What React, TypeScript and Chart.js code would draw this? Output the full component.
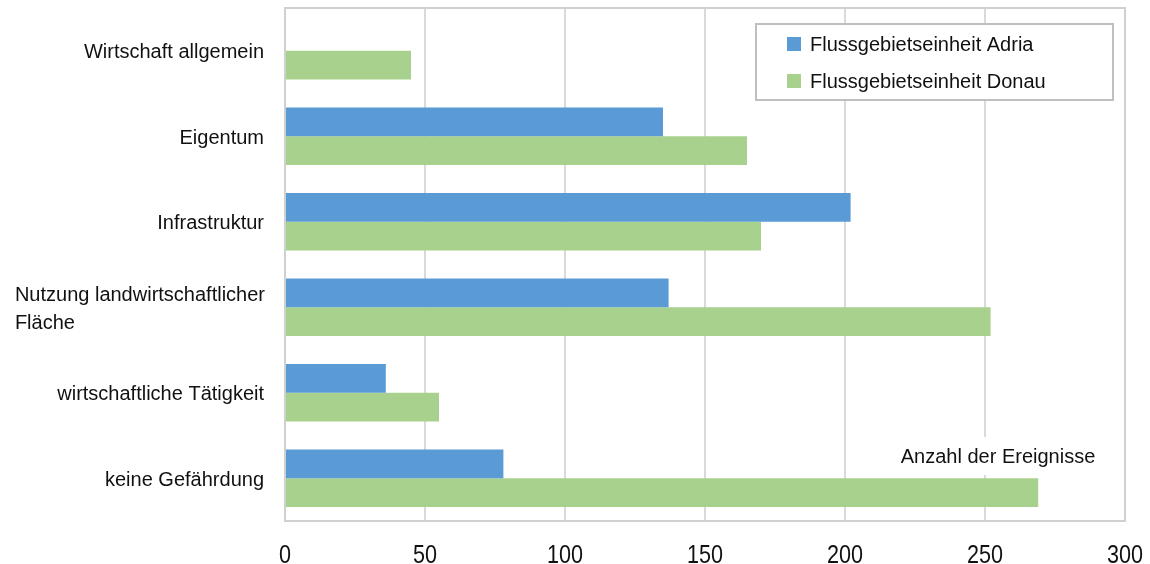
import React, { useEffect, useRef } from "react";
import { Chart, registerables } from "chart.js";

Chart.register(...registerables);

const categories = [
  "Wirtschaft allgemein",
  "Eigentum",
  "Infrastruktur",
  "Nutzung landwirtschaftlicher Fläche",
  "wirtschaftliche Tätigkeit",
  "keine Gefährdung",
];
const categoryLines = [
  ["Wirtschaft allgemein"],
  ["Eigentum"],
  ["Infrastruktur"],
  ["Nutzung landwirtschaftlicher", "Fläche"],
  ["wirtschaftliche Tätigkeit"],
  ["keine Gefährdung"],
];
const adria = [0, 135, 202, 137, 36, 78];
const donau = [45, 165, 170, 252, 55, 269];
const seriesNames = ["Flussgebietseinheit Adria", "Flussgebietseinheit Donau"];
const seriesColors = ["#5b9bd5", "#a9d18e"];
const axisTitle = "Anzahl der Ereignisse";

const FONT = "'Liberation Sans', Arial, sans-serif";

const customPlugin = {
  id: "custom",
  afterDraw(chart: any) {
    const ctx = chart.ctx;
    const area = chart.chartArea;
    const y = chart.scales.y;
    const x = chart.scales.x;
    ctx.save();
    // frame
    ctx.strokeStyle = "#d0d0d0";
    ctx.lineWidth = 2;
    ctx.strokeRect(area.left, area.top, area.right - area.left, area.bottom - area.top);
    // x tick labels (condensed look)
    ctx.fillStyle = "#111111";
    ctx.font = `26px ${FONT}`;
    ctx.textAlign = "center";
    ctx.textBaseline = "alphabetic";
    const sx = 0.83;
    x.ticks.forEach((t: any) => {
      const px = x.getPixelForValue(t.value);
      ctx.save();
      ctx.translate(px, 563);
      ctx.scale(sx, 1);
      ctx.fillText(String(t.value), 0, 0);
      ctx.restore();
    });
    // category labels
    ctx.fillStyle = "#111111";
    ctx.font = `20px ${FONT}`;
    ctx.textBaseline = "middle";
    categoryLines.forEach((lines, i) => {
      const cy = y.getPixelForTick(i);
      const lh = 28;
      const startY = cy - ((lines.length - 1) * lh) / 2 + 2;
      if (lines.length === 1) {
        ctx.textAlign = "right";
        ctx.fillText(lines[0], area.left - 21, startY);
      } else {
        const w = Math.max(...lines.map((l) => ctx.measureText(l).width));
        const x0 = area.left - 20 - w;
        ctx.textAlign = "left";
        lines.forEach((l, k) => ctx.fillText(l, x0, startY + k * lh));
      }
    });
    // axis title with white background
    const tw = ctx.measureText(axisTitle).width;
    const tx = 998;
    const ty = 457;
    ctx.fillStyle = "#ffffff";
    ctx.fillRect(tx - tw / 2 - 4, ty - 20, tw + 8, 38);
    ctx.fillStyle = "#111111";
    ctx.textAlign = "center";
    ctx.fillText(axisTitle, tx, ty);
    // legend
    const lx = 756, ly = 24, lw = 357, lhh = 76;
    ctx.fillStyle = "#ffffff";
    ctx.fillRect(lx, ly, lw, lhh);
    ctx.strokeStyle = "#bfbfbf";
    ctx.lineWidth = 2;
    ctx.strokeRect(lx, ly, lw, lhh);
    ctx.textAlign = "left";
    seriesNames.forEach((n, i) => {
      const rowY = 44 + i * 37;
      ctx.fillStyle = seriesColors[i];
      ctx.fillRect(787, rowY - 7, 14, 14);
      ctx.fillStyle = "#111111";
      ctx.fillText(n, 810, rowY + 1);
    });
    ctx.restore();
  },
};

export default function App() {
  const ref = useRef<HTMLCanvasElement>(null);
  useEffect(() => {
    document.body.style.margin = "0";
    const chart = new Chart(ref.current as HTMLCanvasElement, {
      type: "bar",
      data: {
        labels: categories,
        datasets: [
          {
            label: seriesNames[0],
            data: adria,
            backgroundColor: seriesColors[0],
            categoryPercentage: 0.67,
            barPercentage: 1,
          },
          {
            label: seriesNames[1],
            data: donau,
            backgroundColor: seriesColors[1],
            categoryPercentage: 0.67,
            barPercentage: 1,
          },
        ],
      },
      options: {
        indexAxis: "y",
        animation: false,
        responsive: false,
        maintainAspectRatio: false,
        layout: { padding: { top: 8, right: 25, left: 0, bottom: 0 } },
        plugins: {
          legend: { display: false },
          tooltip: { enabled: false },
        },
        scales: {
          x: {
            min: 0,
            max: 300,
            ticks: {
              stepSize: 50,
              display: false,
            },
            grid: { color: "#d9d9d9", lineWidth: 2, drawTicks: false },
            border: { display: false },
            afterFit: (s: any) => {
              s.height = 43;
              s.paddingRight = 0;
              s.paddingLeft = 0;
            },
          },
          y: {
            ticks: { display: false },
            grid: { display: false, drawTicks: false },
            border: { display: false },
            afterFit: (s: any) => {
              s.width = 285;
            },
          },
        },
      },
      plugins: [customPlugin],
    });
    return () => chart.destroy();
  }, []);
  return <canvas ref={ref} width={1150} height={564} style={{ display: "block" }} />;
}
